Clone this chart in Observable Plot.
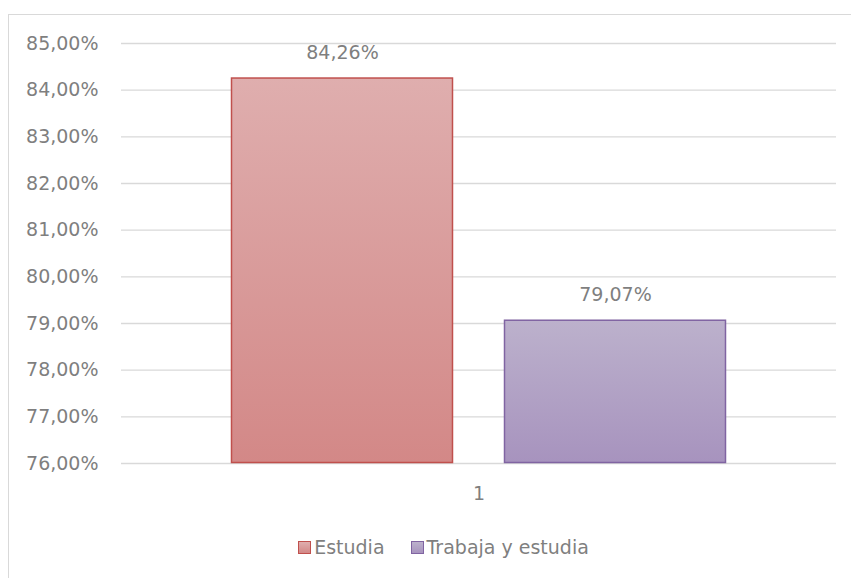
<!DOCTYPE html>
<html>
<head>
<meta charset="utf-8">
<script src="https://cdn.jsdelivr.net/npm/d3@7"></script>
<script src="https://cdn.jsdelivr.net/npm/@observablehq/plot@0.6"></script>
<style>
  html, body { margin: 0; padding: 0; background: #fff; }
  #wrap { position: relative; width: 851px; height: 578px; overflow: hidden; font-family: "DejaVu Sans", sans-serif; }
  #border { position: absolute; left: 8px; top: 14px; width: 900px; height: 700px; border-top: 1.5px solid #d9d9d9; border-left: 1.5px solid #d9d9d9; pointer-events: none; }
  #legend { height: 34px; display: flex; justify-content: center; align-items: center; font-size: 19px; color: #7f7f7f; padding-left: 36px; box-sizing: border-box; width: 851px; }
  .item { display: flex; align-items: center; margin: 0 13px; }
  .sw { width: 11px; height: 11px; margin-right: 3px; }
</style>
</head>
<body>
<div id="wrap">
  <div id="chart"></div>
  <div id="legend"></div>
  <div id="border"></div>
</div>
<script>
// Data
const categories = ["1"];
const seriesNames = ["Estudia", "Trabaja y estudia"];
const seriesValues = [0.8426, 0.7907];
const yTicks = [0.76, 0.77, 0.78, 0.79, 0.80, 0.81, 0.82, 0.83, 0.84, 0.85];

// Styles
const strokeColors = ["#c0504d", "#8064a2"];
const gradTop = ["#dfaeae", "#bcb1cc"];
const gradBottom = ["#d38887", "#a793be"];
const gradIds = ["gEst", "gTra"];

const locale = d3.formatLocale({decimal: ",", thousands: ".", grouping: [3], currency: ["", "€"]});
const pct = locale.format(".2%");

const data = seriesNames.map((name, i) => ({
  name, value: seriesValues[i], cat: categories[0],
  fill: `url(#${gradIds[i]})`, stroke: strokeColors[i]
}));

const defsMark = () => {
  const defs = d3.create("svg:defs");
  gradIds.forEach((id, i) => {
    const g = defs.append("linearGradient").attr("id", id)
      .attr("x1", 0).attr("y1", 0).attr("x2", 0).attr("y2", 1);
    g.append("stop").attr("offset", "0%").attr("stop-color", gradTop[i]);
    g.append("stop").attr("offset", "100%").attr("stop-color", gradBottom[i]);
  });
  return defs.node();
};

const chart = Plot.plot({
  width: 851,
  height: 530,
  marginLeft: 121,
  marginRight: 15,
  marginTop: 43,
  marginBottom: 67,
  style: {fontFamily: "DejaVu Sans, sans-serif", fontSize: "19px", color: "#7f7f7f", background: "transparent"},
  x: {domain: seriesNames, paddingInner: 0.187, paddingOuter: 0.403, axis: null},
  y: {domain: [yTicks[0], yTicks[yTicks.length - 1]], ticks: yTicks, tickFormat: pct, tickSize: 0, tickPadding: 23, label: null},
  color: {type: "identity"},
  marks: [
    defsMark,
    Plot.ruleY(yTicks, {stroke: "#d9d9d9", strokeWidth: 1.3}),
    Plot.barY(data, {x: "name", y1: () => yTicks[0], y2: "value", fill: "fill", stroke: "stroke", strokeWidth: 1.5, inset: 0.5}),
    Plot.text(data, {x: "name", y: "value", text: d => pct(d.value), dy: -25, fill: "#7f7f7f", fontSize: 19}),
    Plot.text(categories, {frameAnchor: "bottom", dy: 36, text: d => d, fill: "#7f7f7f", fontSize: 19})
  ]
});
document.getElementById("chart").appendChild(chart);

const legend = document.getElementById("legend");
seriesNames.forEach((name, i) => {
  const item = document.createElement("div");
  item.className = "item";
  const sw = document.createElement("div");
  sw.className = "sw";
  sw.style.background = `linear-gradient(${gradTop[i]}, ${gradBottom[i]})`;
  sw.style.border = `1.5px solid ${strokeColors[i]}`;
  const label = document.createElement("span");
  label.textContent = name;
  item.appendChild(sw);
  item.appendChild(label);
  legend.appendChild(item);
});
</script>
</body>
</html>
